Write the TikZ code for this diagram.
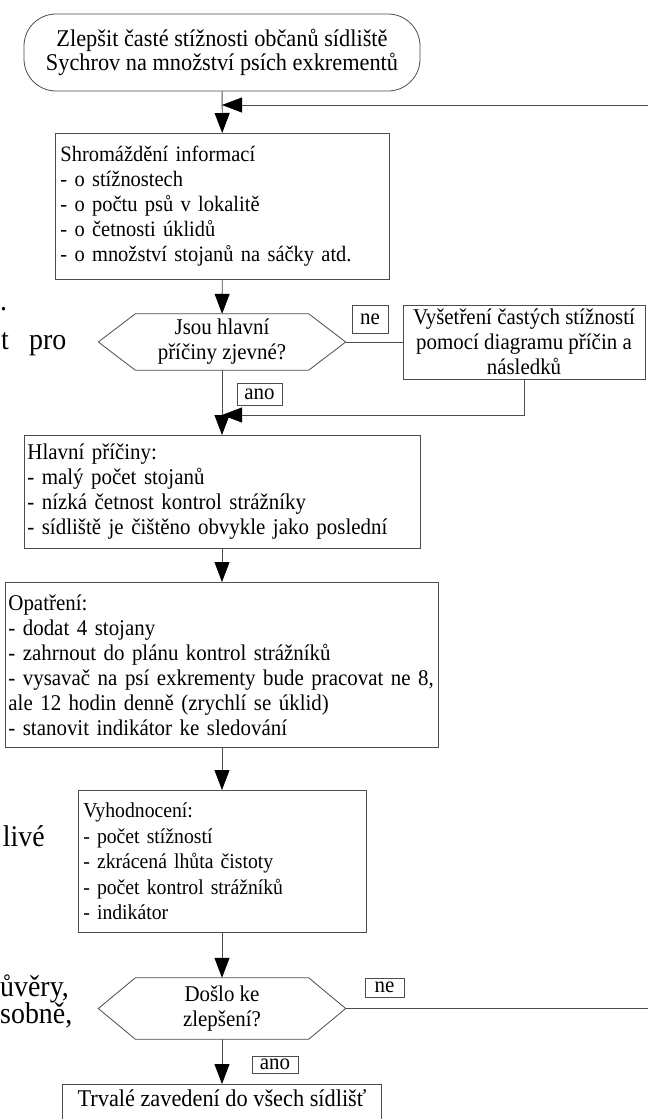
\documentclass[tikz,border=0pt]{standalone}
\usepackage{fontspec}
\setmainfont{Liberation Serif}[FakeStretch=0.93]
\usetikzlibrary{arrows.meta,calc}

% hexagonal outline around a decision node
\newcommand\hexframe[1]{%
  \draw[line] (#1.west) -- ([xshift=37pt]#1.north west) -- ([xshift=-37pt]#1.north east)
    -- (#1.east) -- ([xshift=-37pt]#1.south east) -- ([xshift=37pt]#1.south west) -- cycle;}

\begin{document}
\begin{tikzpicture}[x=1pt,y=-1pt,
  txt/.style={font=\fontsize{22.5}{25}\selectfont},
  bigtxt/.style={font=\fontsize{24}{24}\selectfont},
  line/.style={draw=black!70, line width=0.8pt},
  arr/.style={line, -{Triangle[length=20pt,width=15pt,fill=black,color=black]}},
  box/.style={txt, draw=black!70, line width=0.8pt, rectangle, inner ysep=0pt, align=left, anchor=north west},
  cbox/.style={txt, draw=black!70, line width=0.8pt, rectangle, inner sep=0pt, align=center},
  term/.style={cbox, bigtxt, rounded corners=32pt},
  decision/.style={txt, inner sep=0pt, align=center, minimum width=247pt},
  tag/.style={txt, draw=black!70, line width=0.8pt, inner sep=0pt},
  frag/.style={font=\fontsize{30}{34}\selectfont, inner sep=0pt},
]
\useasboundingbox (0,0) rectangle (648,1119);
\fill[white] (0,0) rectangle (648,1119);
\clip (0,0) rectangle (648,1119);

% paragraph fragments at the left margin
\node[frag, anchor=base west] (f1) at (0,310) {.};
\node[frag, anchor=base east] (f2) at (9,349) {t};
\node[frag, anchor=base west] (f3) at (29,349) {pro};
\node[frag, anchor=base east] (f4) at (45,846) {livé};
\node[frag, anchor=base west] (f5) at (0,996) {ůvěry,};
\node[frag, anchor=base west] (f6) at (0,1023) {sobně,};

% flow chart nodes
\node[term, minimum width=396pt, minimum height=77pt] (start) at (222,52.5)
  {Zlepšit časté stížnosti občanů sídliště\\Sychrov na množství psích exkrementů};

\node[box, font=\fontsize{22}{25}\selectfont, minimum width=334pt, minimum height=146pt, text width=324pt, inner xsep=5pt] (info) at (55,133)
  {Shromáždění informací\\- o stížnostech\\- o počtu psů v lokalitě\\- o četnosti úklidů\\- o množství stojanů na sáčky atd.};

\node[decision, minimum height=56pt] (q1) at (222,342) {Jsou hlavní\\příčiny zjevné?};
\hexframe{q1}

\node[tag, minimum width=36pt, minimum height=28pt] (ne1) at (370,319) {ne};
\node[cbox, minimum width=242pt, minimum height=74pt] (side) at (524,342)
  {Vyšetření častých stížností\\pomocí diagramu příčin a\\následků};
\node[tag, minimum width=45pt, minimum height=22pt] (ano1) at (259.5,394) {ano};

\node[box, minimum width=396pt, minimum height=113pt, text width=390pt, inner xsep=3pt] (causes) at (24,435)
  {Hlavní příčiny:\\- malý počet stojanů\\- nízká četnost kontrol strážníky\\- sídliště je čištěno obvykle jako poslední};

\node[box, minimum width=433pt, minimum height=165pt, text width=427pt, inner xsep=3pt] (measures) at (5,582)
  {Opatření:\\- dodat 4 stojany\\- zahrnout do plánu kontrol strážníků\\\mbox{- vysavač na psí exkrementy bude pracovat ne 8,}\\ale 12 hodin denně (zrychlí se úklid)\\- stanovit indikátor ke sledování};

\node[box, font=\fontsize{21.2}{25.5}\selectfont, minimum width=288pt, minimum height=142pt, text width=278pt, inner xsep=5pt] (eval) at (78,790)
  {Vyhodnocení:\\- počet stížností\\- zkrácená lhůta čistoty\\- počet kontrol strážníků\\- indikátor};

\node[decision, minimum height=61pt] (q2) at (222,1008.5) {Došlo ke\\zlepšení?};
\hexframe{q2}

\node[tag, minimum width=39pt, minimum height=19pt] (ne2) at (384.5,987.5) {ne};
\node[tag, minimum width=46pt, minimum height=17pt] (ano2) at (275,1064.5) {ano};

\node[cbox, bigtxt, anchor=north, minimum width=319pt, inner ysep=6pt, text height=16pt, text depth=24pt] (final) at (222,1084)
  {Trvalé zavedení do všech sídlišť};

% connectors
\coordinate (back) at (222,105);
\coordinate (merge) at (222,415);

\draw[arr] (start) -- (info);
\draw[arr] (q2.east) -- ++(320,0) |- (back);
\draw[arr] (info) -- (q1);
\draw[line] (q1.east) -- (q1.east -| side.west);
\draw[arr] (side.south) |- (merge);
\draw[arr] (q1.south) -- (causes.north -| q1.south);
\draw[arr] (causes.south -| q1.south) -- (measures.north -| q1.south);
\draw[arr] (measures.south -| q1.south) -- (eval.north -| q1.south);
\draw[arr] (eval.south -| q2.north) -- (q2.north);
\draw[arr] (q2.south) -- (final.north);
\end{tikzpicture}
\end{document}
